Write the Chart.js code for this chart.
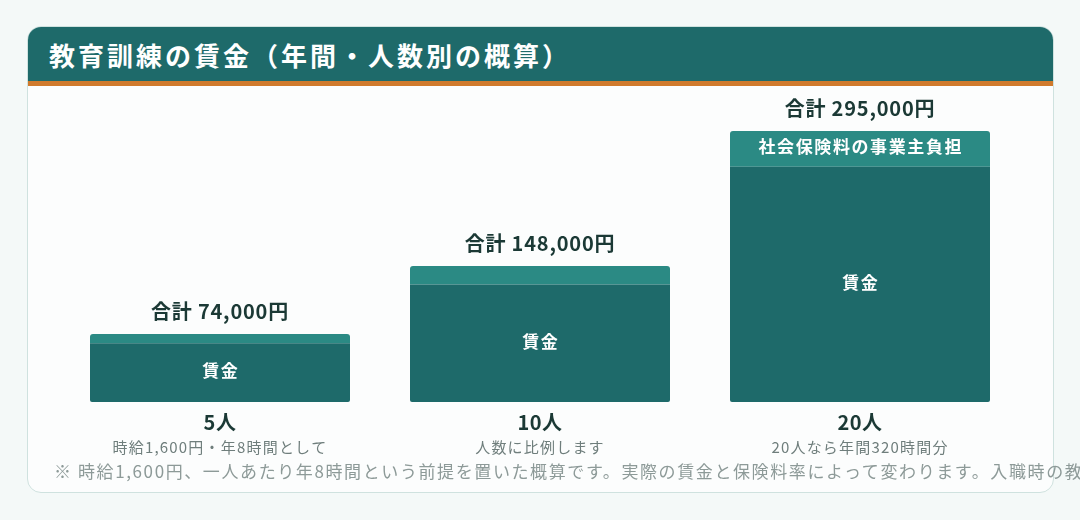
<!DOCTYPE html>
<html lang="ja">
<head>
<meta charset="utf-8">
<script src="https://cdn.jsdelivr.net/npm/chart.js@4.4.1/dist/chart.umd.min.js"></script>
<style>
  html, body { margin: 0; padding: 0; }
  body {
    width: 1080px; height: 520px; overflow: hidden;
    background: #f4f9f8;
    font-family: "Noto Sans CJK JP", "Noto Sans", sans-serif;
    position: relative;
  }
  .card {
    position: absolute; left: 27px; top: 26px; width: 1025px; height: 465px;
    background: #fcfdfd; border: 1.5px solid #cfe2df; border-radius: 14px;
  }
  .card-head {
    height: 54px; background: #1e6a6a; border-bottom: 5px solid #d07a2c;
    border-radius: 13px 13px 0 0;
    color: #fff; font-weight: 700; font-size: 26px; letter-spacing: 3px;
    line-height: 56px; padding-left: 21px; box-sizing: content-box;
  }
  #wrap { position: absolute; left: 27px; top: 85px; width: 1027px; height: 375px; }
  .note {
    position: absolute; left: 54px; top: 459px; white-space: nowrap;
    color: #8d9a98; font-size: 17px; letter-spacing: 1.6px; line-height: 24px;
  }
</style>
</head>
<body>
<div class="card"><div class="card-head">教育訓練の賃金（年間・人数別の概算）</div></div>
<div id="wrap"><canvas id="wageChart"></canvas></div>
<div class="note">※ 時給1,600円、一人あたり年8時間という前提を置いた概算です。実際の賃金と保険料率によって変わります。入職時の教育訓練に限った目安です。</div>

<script>
/* ===================== DATA ===================== */
const categories = ["5人", "10人", "20人"];
const subLabels = ["時給1,600円・年8時間として", "人数に比例します", "20人なら年間320時間分"];
const wages = [64000, 128000, 256000];
const insurance = [10000, 20000, 39000];
const seriesNames = ["賃金", "社会保険料の事業主負担"];

const totals = wages.map((w, i) => w + insurance[i]);

/* ========== Labels plugin ========== */
const labelPlugin = {
  id: "barLabels",
  afterDatasetsDraw(chart) {
    const ctx = chart.ctx;
    const xScale = chart.scales.x;
    const bottom = chart.chartArea.bottom;
    ctx.save();
    ctx.textAlign = "center";
    ctx.textBaseline = "middle";

    // names inside segments
    chart.data.datasets.forEach((ds, di) => {
      const meta = chart.getDatasetMeta(di);
      meta.data.forEach(bar => {
        const h = bar.base - bar.y;
        if (h < 26) return;
        ctx.fillStyle = "#ffffff";
        ctx.font = "700 17px 'Noto Sans CJK JP'";
        ctx.letterSpacing = "1.6px";
        ctx.fillText(ds.label, bar.x + 0.8, (bar.y + bar.base) / 2 - 2);
      });
    });

    // totals above bars
    const top = chart.getDatasetMeta(1).data;
    top.forEach((bar, i) => {
      ctx.fillStyle = "#1b3935";
      ctx.font = "700 20px 'Noto Sans CJK JP'";
      ctx.letterSpacing = "0.8px";
      ctx.fillText("合計 " + totals[i].toLocaleString("ja-JP") + "円", bar.x, bar.y - 23);
    });

    // category labels under bars
    categories.forEach((c, i) => {
      const x = xScale.getPixelForValue(i);
      ctx.fillStyle = "#1b3935";
      ctx.font = "700 20px 'Noto Sans CJK JP'";
      ctx.letterSpacing = "0.5px";
      ctx.fillText(c, x, bottom + 20);
      ctx.fillStyle = "#6f7e7c";
      ctx.font = "400 15px 'Noto Sans CJK JP'";
      ctx.letterSpacing = "1.2px";
      ctx.fillText(subLabels[i], x, bottom + 45);
    });
    ctx.restore();
  }
};

/* ========== Chart ========== */
const ctx = document.getElementById("wageChart").getContext("2d");
new Chart(ctx, {
  type: "bar",
  data: {
    labels: categories,
    datasets: [
      {
        label: seriesNames[0],
        data: wages,
        backgroundColor: "#1e6a6a",
        borderRadius: { bottomLeft: 2, bottomRight: 2 },
        borderSkipped: false
      },
      {
        label: seriesNames[1],
        data: insurance,
        backgroundColor: "#2b8a84",
        borderRadius: { topLeft: 3, topRight: 3 },
        borderSkipped: false
      }
    ]
  },
  options: {
    responsive: true,
    maintainAspectRatio: false,
    animation: { duration: 0 },
    layout: { padding: { left: 33, right: 34, top: 23, bottom: 58 } },
    datasets: { bar: { categoryPercentage: 1, barPercentage: 0.8125 } },
    plugins: { legend: { display: false }, tooltip: { enabled: false } },
    scales: {
      x: { stacked: true, display: false },
      y: { stacked: true, display: false, min: 0, max: 320000 }
    }
  },
  plugins: [labelPlugin]
});
</script>
</body>
</html>
